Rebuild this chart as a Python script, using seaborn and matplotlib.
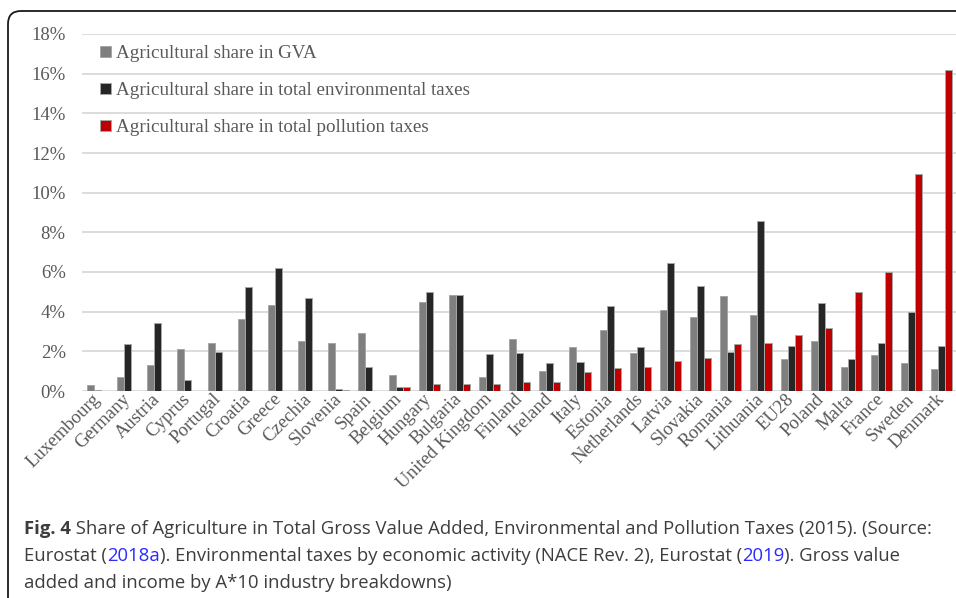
import pandas as pd
import seaborn as sns
import matplotlib.pyplot as plt
from matplotlib.patches import FancyBboxPatch
from matplotlib.ticker import FuncFormatter

countries = ["Luxembourg", "Germany", "Austria", "Cyprus", "Portugal", "Croatia",
             "Greece", "Czechia", "Slovenia", "Spain", "Belgium", "Hungary",
             "Bulgaria", "United Kingdom", "Finland", "Ireland", "Italy", "Estonia",
             "Netherlands", "Latvia", "Slovakia", "Romania", "Lithuania", "EU28",
             "Poland", "Malta", "France", "Sweden", "Denmark"]

# shares in percent
gva_share = [0.30, 0.70, 1.30, 2.12, 2.40, 3.63, 4.32, 2.50, 2.40, 2.90, 0.82, 4.50,
             4.82, 0.70, 2.60, 1.00, 2.22, 3.10, 1.92, 4.10, 3.71, 4.80, 3.81, 1.61,
             2.50, 1.23, 1.83, 1.41, 1.11]
env_tax_share = [0.05, 2.35, 3.43, 0.54, 1.95, 5.23, 6.20, 4.67, 0.08, 1.19, 0.20, 4.99,
                 4.82, 1.85, 1.90, 1.41, 1.44, 4.27, 2.22, 6.45, 5.29, 1.95, 8.55, 2.27,
                 4.43, 1.61, 2.42, 3.98, 2.25]
poll_tax_share = [0.0, 0.0, 0.0, 0.0, 0.0, 0.0, 0.0, 0.02, 0.03, 0.02, 0.18, 0.33,
                  0.35, 0.33, 0.47, 0.47, 0.97, 1.14, 1.23, 1.53, 1.65, 2.37, 2.42, 2.82,
                  3.17, 5.00, 6.01, 10.96, 16.20]

series_names = ["Agricultural share in GVA",
                "Agricultural share in total environmental taxes",
                "Agricultural share in total pollution taxes"]
series_colors = ["#7f7f7f", "#262626", "#c00000"]

df = pd.DataFrame({
    "country": countries * 3,
    "series": [series_names[0]] * len(countries) + [series_names[1]] * len(countries)
              + [series_names[2]] * len(countries),
    "value": gva_share + env_tax_share + poll_tax_share,
})

serif = "Liberation Serif"
label_color = "#595959"

fig = plt.figure(figsize=(9.56, 5.98), dpi=100)
ax = fig.add_axes([82.4 / 956, 1 - 391 / 598, (957 - 82.4) / 956, (391 - 34) / 598])

sns.barplot(data=df, x="country", y="value", hue="series", order=countries,
            hue_order=series_names, palette=series_colors, width=0.7,
            edgecolor="#a6a6a6", linewidth=0.7, saturation=1, ax=ax)

ax.set_ylim(0, 18)
ax.set_yticks(range(0, 19, 2))
ax.yaxis.set_major_formatter(FuncFormatter(lambda v, p: f"{v:.0f}%"))
ax.grid(axis="y", color="#d9d9d9", linewidth=1.3)
ax.grid(axis="x", visible=False)
ax.set_axisbelow(True)
for s in ax.spines.values():
    s.set_visible(False)
ax.set_xlabel("")
ax.set_ylabel("")
ax.tick_params(axis="y", length=0, pad=12, labelsize=13.5, labelcolor=label_color)
ax.tick_params(axis="x", length=0, pad=4, labelsize=13.5, labelcolor=label_color)
for t in ax.get_yticklabels():
    t.set_fontfamily(serif)
for t in ax.get_xticklabels():
    t.set_fontfamily(serif)
    t.set_rotation(45)
    t.set_ha("right")
    t.set_va("center")
    t.set_rotation_mode("anchor")

handles, labels = ax.get_legend_handles_labels()
ax.legend(handles, labels, loc="upper left", bbox_to_anchor=(83 / 956, 1 - 28 / 598),
          bbox_transform=fig.transFigure, frameon=False, handlelength=0.55,
          handleheight=0.55, handletextpad=0.3, labelspacing=1.05,
          prop={"family": serif, "size": 13.7}, labelcolor=label_color)

# rounded frame around the figure panel
fig.add_artist(FancyBboxPatch((0.08, -1.0), 10.0, 5.87 + 1.0,
                              boxstyle="round,pad=0,rounding_size=0.13",
                              transform=fig.dpi_scale_trans, fill=False,
                              edgecolor="#1a1a1a", linewidth=1.3, clip_on=False))

# caption
cap_font = "Open Sans"
cap_color = "#3d3d3d"
link_color = "#2a2aff"
cap_size = 13.3


def caption_line(parts, y_px):
    prev = None
    for text, color, weight in parts:
        if prev is None:
            prev = fig.text(24 / 956, 1 - y_px / 598, text, family=cap_font, size=cap_size,
                            color=color, weight=weight, va="baseline", ha="left")
        else:
            prev = ax.annotate(text, xy=(1, 0), xycoords=prev, va="bottom", ha="left",
                               family=cap_font, size=cap_size, color=color,
                               weight=weight, annotation_clip=False)


caption_line([("Fig. 4", cap_color, "bold"),
              (" Share of Agriculture in Total Gross Value Added, Environmental and "
               "Pollution Taxes (2015). (Source:", cap_color, "normal")], 534)
caption_line([("Eurostat (", cap_color, "normal"), ("2018a", link_color, "normal"),
              ("). Environmental taxes by economic activity (NACE Rev. 2), Eurostat (",
               cap_color, "normal"),
              ("2019", link_color, "normal"), ("). Gross value", cap_color, "normal")], 561)
caption_line([("added and income by A*10 industry breakdowns)", cap_color, "normal")], 588)

fig.savefig("out.png", dpi=100)
